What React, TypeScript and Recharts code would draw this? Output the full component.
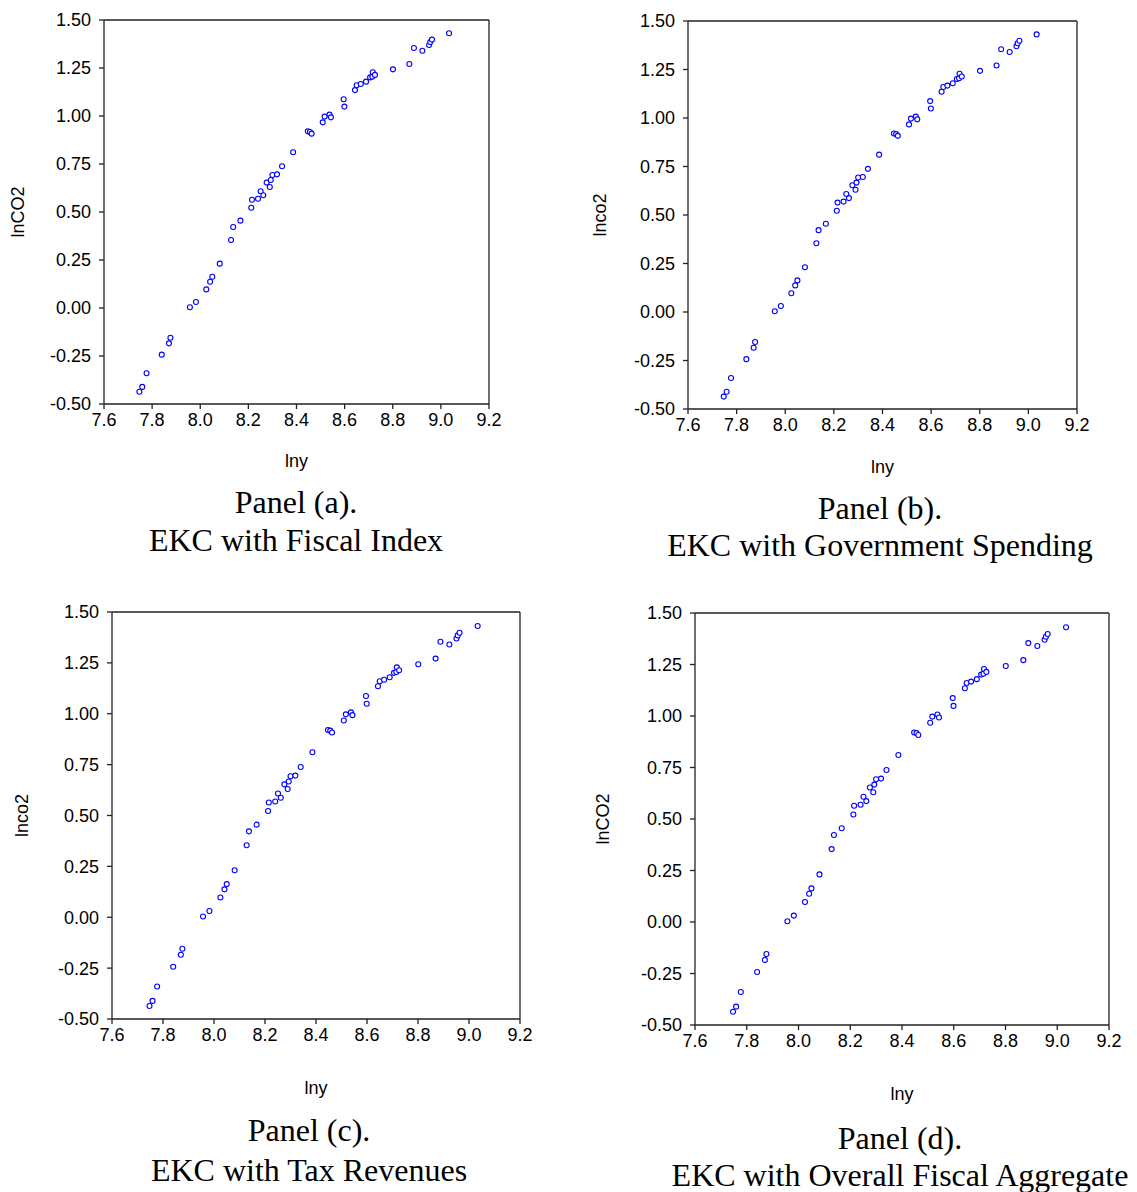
import { ScatterChart, Scatter, XAxis, YAxis, ReferenceLine } from "recharts";

// log income per capita and log CO2 per capita, same sample in every panel
const lny = [
  7.747, 7.759, 7.777, 7.84, 7.87, 7.876, 7.957, 7.982, 8.025, 8.041, 8.05,
  8.081, 8.128, 8.137, 8.167, 8.212, 8.215, 8.24, 8.251, 8.262, 8.276, 8.289,
  8.293, 8.3, 8.319, 8.34, 8.386, 8.447, 8.456, 8.463, 8.509, 8.517, 8.537,
  8.543, 8.596, 8.599, 8.643, 8.65, 8.667, 8.689, 8.706, 8.715, 8.717, 8.726,
  8.801, 8.869, 8.888, 8.923, 8.951, 8.956, 8.963, 9.034,
];
const lnco2 = [
  -0.436, -0.411, -0.34, -0.243, -0.184, -0.155, 0.004, 0.031, 0.097, 0.137,
  0.163, 0.231, 0.354, 0.422, 0.455, 0.522, 0.564, 0.569, 0.608, 0.587, 0.653,
  0.63, 0.667, 0.693, 0.696, 0.738, 0.811, 0.92, 0.917, 0.908, 0.967, 0.997,
  1.007, 0.993, 1.087, 1.049, 1.135, 1.16, 1.167, 1.179, 1.201, 1.205, 1.228,
  1.214, 1.243, 1.271, 1.354, 1.34, 1.37, 1.385, 1.398, 1.431,
];

const xTicks = [7.6, 7.8, 8.0, 8.2, 8.4, 8.6, 8.8, 9.0, 9.2];
const yTicks = [-0.5, -0.25, 0, 0.25, 0.5, 0.75, 1.0, 1.25, 1.5];

const yLabels = ["lnCO2", "lnco2", "lnco2", "lnCO2"];
const panelNames = ["Panel (a).", "Panel (b).", "Panel (c).", "Panel (d)."];
const panelTitles = [
  "EKC with Fiscal Index",
  "EKC with Government Spending",
  "EKC with Tax Revenues",
  "EKC with Overall Fiscal Aggregate",
];

const points = lny.map((x, i) => ({ x, y: lnco2[i] }));

// plot boxes and text offsets, in page pixels
const layout = [
  { left: 104, top: 20, right: 489, bottom: 404, yGap: 86, xGap: 57, cx: 296, cy: [502, 540] },
  { left: 688, top: 21, right: 1077, bottom: 409, yGap: 88, xGap: 58, cx: 880, cy: [508, 545] },
  { left: 112, top: 612, right: 520, bottom: 1019, yGap: 90, xGap: 69, cx: 309, cy: [1130, 1170] },
  { left: 695, top: 613, right: 1109, bottom: 1025, yGap: 92, xGap: 69, cx: 900, cy: [1138, 1175] },
];

const SANS = "'Liberation Sans', Arial, sans-serif";
const SERIF = "'Liberation Serif', 'Times New Roman', serif";
const FRAME = "#222";

const PAD_L = 110;
const PAD_T = 12;
const PAD_R = 16;
const PAD_B = 90;

function Ring(props: any) {
  const { cx, cy } = props;
  if (cx == null || cy == null) return null;
  return <circle cx={cx} cy={cy} r={2.5} fill="#fff" stroke="#0000ff" strokeWidth={1.1} />;
}

function XTitle({ viewBox, value, gap }: any) {
  if (!viewBox) return null;
  return (
    <text
      x={viewBox.x + viewBox.width / 2}
      y={viewBox.y + gap}
      textAnchor="middle"
      dominantBaseline="central"
      fontFamily={SANS}
      fontSize={18}
      fill="#000"
    >
      {value}
    </text>
  );
}

function YTitle({ viewBox, value, gap }: any) {
  if (!viewBox) return null;
  const x = viewBox.x + viewBox.width - gap;
  const y = viewBox.y + viewBox.height / 2;
  return (
    <text
      x={x}
      y={y}
      transform={`rotate(-90, ${x}, ${y})`}
      textAnchor="middle"
      dominantBaseline="central"
      fontFamily={SANS}
      fontSize={18}
      fill="#000"
    >
      {value}
    </text>
  );
}

function Panel({ i }: { i: number }) {
  const p = layout[i];
  const w = p.right - p.left;
  const h = p.bottom - p.top;
  return (
    <>
      <div style={{ position: "absolute", left: p.left - PAD_L, top: p.top - PAD_T }}>
        <ScatterChart
          width={w + PAD_L + PAD_R}
          height={h + PAD_T + PAD_B}
          margin={{ top: PAD_T, right: PAD_R, left: 0, bottom: 0 }}
        >
          <XAxis
            type="number"
            dataKey="x"
            domain={[7.6, 9.2]}
            ticks={xTicks}
            allowDataOverflow
            height={PAD_B}
            stroke={FRAME}
            strokeWidth={1.3}
            tickSize={5}
            tickMargin={4}
            tick={{ fontSize: 18, fill: "#000", fontFamily: SANS }}
            tickFormatter={(v: number) => v.toFixed(1)}
            label={<XTitle value="lny" gap={p.xGap} />}
          />
          <YAxis
            type="number"
            dataKey="y"
            domain={[-0.5, 1.5]}
            ticks={yTicks}
            allowDataOverflow
            width={PAD_L}
            stroke={FRAME}
            strokeWidth={1.3}
            tickSize={5}
            tickMargin={8}
            tick={{ fontSize: 18, fill: "#000", fontFamily: SANS }}
            tickFormatter={(v: number) => v.toFixed(2)}
            label={<YTitle value={yLabels[i]} gap={p.yGap} />}
          />
          <ReferenceLine y={1.5} stroke={FRAME} strokeWidth={1.3} />
          <ReferenceLine x={9.2} stroke={FRAME} strokeWidth={1.3} />
          <Scatter data={points} shape={<Ring />} isAnimationActive={false} />
        </ScatterChart>
      </div>
      {[panelNames[i], panelTitles[i]].map((t, k) => (
        <div
          key={k}
          style={{
            position: "absolute",
            left: p.cx - 300,
            top: p.cy[k] - 20,
            width: 600,
            height: 40,
            lineHeight: "40px",
            textAlign: "center",
            fontFamily: SERIF,
            fontSize: 32,
            color: "#000",
            whiteSpace: "nowrap",
          }}
        >
          {t}
        </div>
      ))}
    </>
  );
}

export default function App() {
  return (
    <div
      style={{
        position: "absolute",
        left: 0,
        top: 0,
        width: 1137,
        height: 1192,
        background: "#fff",
        overflow: "hidden",
      }}
    >
      {[0, 1, 2, 3].map((i) => (
        <Panel key={i} i={i} />
      ))}
    </div>
  );
}
